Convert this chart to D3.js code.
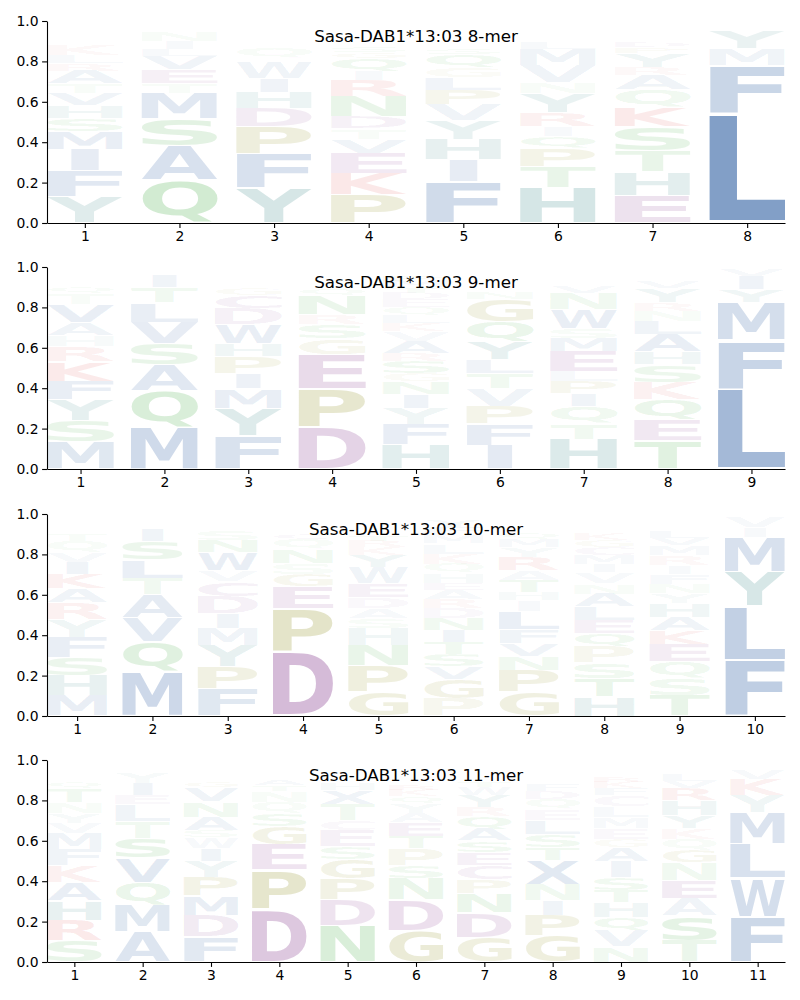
<!DOCTYPE html>
<html>
<head>
<meta charset="utf-8">
<script src="https://cdn.jsdelivr.net/npm/d3@7"></script>
<style>
  body { margin: 0; background: #fff; }
  text { font-family: 'DejaVu Sans', sans-serif; }
</style>
</head>
<body>
<div id="chart"></div>
<script>
// Titles of the four logos
const titles = [
    "Sasa-DAB1*13:03 8-mer",
    "Sasa-DAB1*13:03 9-mer",
    "Sasa-DAB1*13:03 10-mer",
    "Sasa-DAB1*13:03 11-mer"
];

// Residue probabilities per position, listed bottom -> top of each stack
const mer8 = [
    {Y:.13, F:.13, I:.105, M:.09, S:.065, H:.062, V:.062, T:.045, A:.065, R:.035, L:.04, K:.05, Q:.025, E:.02, N:.018, D:.015, G:.015, P:.014, W:.01, C:.006},
    {Q:.21, A:.17, S:.135, M:.128, T:.047, E:.07, V:.066, L:.036, I:.038, N:.047, K:.015, R:.012, D:.01, G:.008, P:.007},
    {Y:.172, F:.17, P:.134, D:.092, H:.08, I:.066, W:.08, L:.025, Q:.05, C:.02, V:.02, M:.015, A:.015, S:.012, E:.01, K:.01, G:.01, T:.008, N:.011},
    {P:.142, K:.105, E:.1, V:.07, T:.05, D:.06, N:.1, R:.08, I:.045, Q:.065, G:.03, S:.03, A:.025, L:.02, M:.02, Y:.018, H:.015, F:.012, W:.008, C:.005},
    {F:.205, I:.107, H:.1, Y:.095, V:.078, P:.072, L:.062, G:.05, Q:.065, S:.03, A:.025, T:.022, N:.02, D:.018, E:.015, K:.012, R:.01, M:.006, W:.005, C:.003},
    {H:.175, T:.105, P:.09, Q:.06, I:.05, R:.065, Y:.095, N:.055, V:.085, M:.08, L:.03, F:.025, S:.02, E:.018, A:.015, K:.012, G:.01, D:.008, W:.002},
    {E:.137, H:.117, T:.105, S:.118, K:.097, Q:.087, A:.072, R:.038, Y:.07, P:.03, D:.028, V:.025, G:.02, N:.018, L:.015, I:.01, M:.008, F:.005},
    {L:.545, F:.237, M:.083, Y:.09, I:.015, V:.01, W:.008, H:.005, A:.004, T:.003}
];

const mer9 = [
    {M:.135, S:.103, Y:.104, F:.093, K:.097, R:.075, H:.055, A:.062, V:.09, T:.055, Q:.03, N:.025, L:.022, I:.02, E:.015, D:.012, G:.004, P:.002, W:.001, C:.001},
    {M:.207, Q:.18, A:.13, S:.105, V:.105, L:.097, T:.075, I:.06, E:.012, K:.01, N:.008, R:.005, F:.004, Y:.002},
    {F:.165, Y:.137, M:.095, I:.077, P:.082, H:.063, W:.095, D:.08, C:.065, G:.035, S:.025, V:.025, A:.02, N:.015, E:.012, K:.005, R:.003, L:.002},
    {D:.207, P:.19, E:.17, G:.08, S:.07, R:.048, N:.095, Q:.035, T:.025, K:.02, A:.015, C:.012, H:.01, V:.008, Y:.006, L:.005, I:.004},
    {H:.122, F:.1, Y:.08, I:.07, N:.06, G:.04, S:.06, R:.04, A:.06, V:.05, K:.04, L:.04, Q:.04, E:.04, D:.03, T:.03, M:.03, P:.03, W:.02, C:.015},
    {I:.118, F:.104, P:.088, V:.088, T:.074, L:.068, Y:.09, Q:.1, G:.11, N:.03, S:.025, E:.02, A:.02, D:.018, H:.015, K:.012, M:.01, R:.006, W:.003},
    {H:.148, T:.078, Q:.085, I:.062, P:.06, L:.05, E:.1, M:.065, S:.048, W:.095, N:.08, V:.03, Y:.025, G:.02, F:.018, A:.015, D:.012, K:.008, R:.001},
    {T:.14, E:.104, Q:.099, K:.086, S:.087, H:.063, A:.09, L:.064, N:.05, R:.04, Y:.07, V:.03, G:.02, D:.018, F:.015, I:.01, M:.008, P:.006},
    {L:.397, F:.24, M:.19, Y:.06, I:.07, V:.03, W:.005, A:.004, H:.004}
];

const mer10 = [
    {M:.102, H:.098, S:.092, F:.098, Y:.088, R:.082, A:.07, K:.072, I:.06, V:.05, Q:.055, T:.035, N:.025, L:.02, E:.018, D:.012, G:.01, P:.008, W:.005, C:.002},
    {M:.218, Q:.15, V:.12, A:.115, T:.08, L:.09, S:.09, I:.06, E:.02, K:.015, R:.01, D:.01, N:.008, F:.006, G:.005, Y:.003},
    {F:.135, P:.108, Y:.105, M:.088, I:.072, D:.085, C:.072, V:.055, W:.09, N:.06, S:.05, A:.02, T:.015, G:.012, H:.01, E:.008, K:.006, Q:.005, R:.004, L:.002},
    {D:.32, P:.21, E:.11, G:.06, S:.055, N:.07, Q:.05, C:.03, T:.025, A:.02, K:.015, R:.012, H:.008, V:.006, Y:.005, L:.004},
    {G:.12, P:.13, N:.1, H:.085, S:.05, A:.05, D:.05, E:.07, W:.08, Y:.06, K:.04, R:.03, T:.03, Q:.025, V:.02, L:.02, F:.015, M:.012, I:.01, C:.008},
    {P:.088, G:.095, V:.06, S:.06, T:.06, I:.06, N:.06, D:.05, R:.045, A:.045, E:.035, H:.05, Q:.045, K:.05, L:.05, M:.04, F:.04, Y:.035, W:.02, C:.012},
    {G:.118, P:.11, N:.07, V:.06, F:.068, L:.09, I:.055, H:.04, T:.06, A:.05, R:.065, Y:.05, M:.04, Q:.03, S:.025, E:.022, D:.02, K:.015, W:.008, C:.004},
    {H:.095, T:.09, S:.08, P:.08, Q:.065, E:.065, L:.065, A:.065, N:.05, V:.055, I:.04, M:.045, C:.04, G:.035, K:.03, R:.025, D:.022, Y:.02, F:.018, W:.015},
    {T:.102, S:.085, Q:.085, E:.085, K:.065, A:.066, H:.07, Y:.05, N:.046, F:.05, I:.04, R:.05, M:.05, V:.035, L:.03, G:.025, D:.022, P:.02, W:.015, C:.009},
    {F:.278, L:.265, Y:.17, M:.17, I:.05, V:.052, W:.008, H:.004, A:.003}
];

const mer11 = [
    {S:.107, R:.1, H:.097, A:.09, K:.082, F:.08, M:.08, V:.05, Y:.05, N:.055, T:.07, Q:.03, L:.025, E:.022, I:.02, G:.015, D:.012, P:.01, W:.003, C:.002},
    {A:.148, M:.133, Q:.113, V:.12, S:.1, T:.082, L:.083, E:.048, I:.06, Y:.055, G:.02, K:.012, N:.01, R:.008, F:.005, D:.003},
    {F:.124, D:.107, M:.097, P:.092, Y:.08, I:.063, W:.053, S:.035, A:.065, N:.077, V:.07, G:.03, T:.025, H:.022, E:.018, L:.015, Q:.012, K:.008, R:.005, C:.002},
    {D:.26, P:.195, E:.127, G:.09, S:.063, Q:.055, N:.055, T:.03, A:.03, K:.025, C:.02, R:.015, H:.012, V:.01, Y:.008, L:.005},
    {N:.182, D:.128, P:.102, G:.097, S:.063, E:.08, C:.05, T:.08, X:.07, H:.03, A:.025, Q:.02, K:.018, R:.015, V:.012, Y:.01, L:.008, M:.005, F:.005},
    {G:.157, D:.15, N:.105, S:.065, P:.085, T:.06, E:.07, A:.045, Y:.05, Q:.035, K:.03, R:.028, H:.025, V:.022, L:.02, I:.018, M:.015, F:.012, W:.005, C:.003},
    {G:.123, D:.122, N:.095, P:.07, C:.07, E:.063, S:.058, A:.058, Q:.062, R:.045, Y:.06, W:.04, T:.03, K:.025, H:.02, V:.018, L:.015, I:.012, M:.01, F:.004},
    {G:.131, P:.1, I:.072, N:.08, X:.12, T:.063, S:.065, L:.07, E:.055, Q:.05, D:.04, F:.03, K:.025, R:.02, V:.02, H:.018, A:.015, M:.012, Y:.008, W:.006},
    {N:.075, V:.08, Q:.067, H:.075, T:.058, S:.062, I:.08, A:.07, G:.04, E:.055, M:.055, L:.054, C:.055, F:.035, K:.03, R:.028, Y:.025, D:.022, P:.018, W:.016},
    {T:.106, S:.122, A:.088, E:.09, N:.086, G:.062, Q:.055, K:.055, Y:.06, H:.075, R:.06, V:.035, L:.03, I:.025, D:.02, M:.012, F:.008, P:.005, W:.004, C:.002},
    {F:.225, W:.19, L:.17, M:.155, Y:.085, K:.08, V:.045, I:.02, H:.015, A:.01, R:.005}
];

const panels = [mer8, mer9, mer10, mer11];
const yTicks = [0, 0.2, 0.4, 0.6, 0.8, 1.0];

// Residue groups and their colours (glyphs are faded by probability)
const groupColors = {
    "AFILMVWX": "#1a4f99",
    "HY": "#127070",
    "STNQ": "#2ca02c",
    "DEC": "#7d2a85",
    "KR": "#d62728",
    "PG": "#808000"
};
const colorOf = {};
Object.entries(groupColors).forEach(([letters, c]) => letters.split("").forEach(l => colorOf[l] = c));

// Figure layout
const fullWidth = 800, fullHeight = 1000;
const left = 47, right = 785, plotHeight = 202;
const tops = [21, 267, 514, 760];
const glyphWidth = 0.8, vpad = 0.05;

const svg = d3.select("#chart")
    .append("svg")
    .attr("width", fullWidth)
    .attr("height", fullHeight)
    .style("background", "#fff");

// Ink extents of each glyph, measured on a canvas with the same font
const fontSize = 100;
const ctx = document.createElement("canvas").getContext("2d");
ctx.font = `bold ${fontSize}px 'DejaVu Sans'`;
function ink(ch) {
    const m = ctx.measureText(ch);
    return { l: m.actualBoundingBoxLeft, r: m.actualBoundingBoxRight,
             a: m.actualBoundingBoxAscent, d: m.actualBoundingBoxDescent };
}
const inkE = ink("E");
const widthE = inkE.l + inkE.r;

panels.forEach((cols, pi) => {
    const n = cols.length;
    const g = svg.append("g").attr("transform", `translate(0,${tops[pi]})`);

    const x = d3.scaleLinear().domain([0.6, n + 0.4]).range([left, right]);
    const y = d3.scaleLinear().domain([0, 1]).range([plotHeight, 0]);

    // Stack glyphs of every column
    cols.forEach((col, ci) => {
        const pos = ci + 1;
        let cum = 0;
        Object.entries(col).forEach(([aa, p]) => {
            const yb = y(cum), yt = y(cum + p);
            cum += p;
            const h = yb - yt;
            if (h <= 0.05) return;
            const innerH = h * (1 - vpad);
            const b = ink(aa);
            const w = b.l + b.r, gh = b.a + b.d;
            const bw = x(pos + glyphWidth / 2) - x(pos - glyphWidth / 2);
            const sx = Math.min(bw / w, bw / widthE);
            const sy = innerH / gh;
            const x0 = x(pos) - (w * sx) / 2;
            const y0 = yt + h * vpad / 2;
            g.append("text")
                .attr("transform", `translate(${x0},${y0}) scale(${sx},${sy}) translate(${b.l},${b.a})`)
                .attr("font-size", fontSize)
                .attr("font-weight", "bold")
                .style("fill", colorOf[aa])
                .style("fill-opacity", p)
                .text(aa);
        });
    });

    // Axes
    g.append("g")
        .attr("transform", `translate(${left},0)`)
        .call(d3.axisLeft(y).tickValues(yTicks).tickFormat(d3.format(".1f"))
            .tickSize(4.9).tickPadding(3.5).tickSizeOuter(0))
        .call(a => a.selectAll("text").style("font-size", "13.9px").style("font-family", "'DejaVu Sans'"));

    g.append("g")
        .attr("transform", `translate(0,${plotHeight})`)
        .call(d3.axisBottom(x).tickValues(d3.range(1, n + 1)).tickFormat(d3.format("d"))
            .tickSize(4.9).tickPadding(3.5).tickSizeOuter(0))
        .call(a => a.selectAll("text").style("font-size", "13.9px").style("font-family", "'DejaVu Sans'"));

    g.selectAll(".domain").attr("stroke", "#000").attr("stroke-width", 1.1);
    g.selectAll(".tick line").attr("stroke", "#000").attr("stroke-width", 1.1);

    // Title inside the top of the panel
    g.append("text")
        .attr("x", (left + right) / 2)
        .attr("y", 21)
        .attr("text-anchor", "middle")
        .style("font-size", "16.7px")
        .style("fill", "#000")
        .text(titles[pi]);
});
</script>
</body>
</html>
